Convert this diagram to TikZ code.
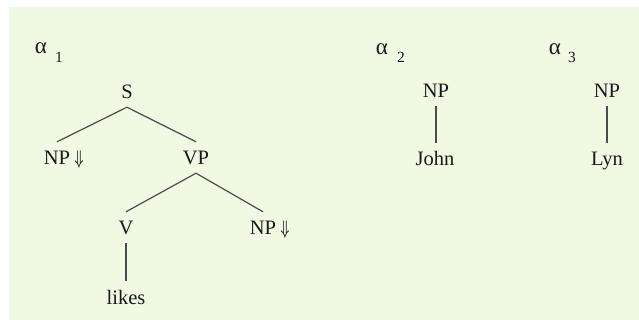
\documentclass[tikz,border=0pt]{standalone}
\usepackage{fontspec}
\setmainfont{Liberation Serif}
\usepackage{graphicx}
\definecolor{bgreen}{RGB}{240,250,226}
\definecolor{txt}{RGB}{25,25,25}
\definecolor{ln}{RGB}{75,75,75}
\begin{document}
\begin{tikzpicture}[x=1pt,y=-1pt,
  lab/.style={anchor=base,inner xsep=0pt,inner ysep=8pt,text height=15pt,text depth=0pt,
    font=\fontsize{20.5}{24}\selectfont,text=txt},
  dn/.style={anchor=base west,inner sep=0pt,text=txt,font=\fontsize{20}{24}\selectfont},
  greek/.style={anchor=base,inner sep=0pt,text=txt,font=\fontsize{23}{26}\selectfont},
  idx/.style={anchor=base,inner sep=0pt,text=txt,font=\fontsize{15.5}{18}\selectfont},
  edge/.style={draw=ln,line width=1.2pt}]
\useasboundingbox (0,0) rectangle (639,320);
\fill[white] (0,0) rectangle (639,320);
\fill[bgreen] (9,7) rectangle (639,320);
% alpha labels
\node[greek] (a1) at (41,54) {α};
\node[idx] (i1) at (59,63) {1};
\node[greek] (a2) at (382,55) {α};
\node[idx] (i2) at (401,63) {2};
\node[greek] (a3) at (555,55) {α};
\node[idx] (i3) at (572,63) {3};
% tree alpha1
\node[lab] (S) at (127,99) {S};
\node[lab] (NPa) at (57,165) {NP};
\node[dn] (da) at (NPa.base east) {\hspace{4pt}\scalebox{0.6}[0.95]{\boldmath$\Downarrow$}};
\node[lab] (VP) at (196,165) {VP};
\node[lab] (V) at (126,235) {V};
\node[lab] (NPb) at (263,235) {NP};
\node[dn] (db) at (NPb.base east) {\hspace{4pt}\scalebox{0.6}[0.95]{\boldmath$\Downarrow$}};
\node[lab] (likes) at (126,304) {likes};
\draw[edge] (S.south) -- (NPa.north);
\draw[edge] (S.south) -- (VP.north);
\draw[edge] (VP.south) -- (V.north);
\draw[edge] (VP.south) -- (NPb.north);
\draw[edge] (V.south) -- (likes.north);
% alpha2
\node[lab] (NPc) at (436,98) {NP};
\node[lab] (john) at (435,166) {John};
\draw[edge] (NPc.south) -- (NPc.south |- john.north);
% alpha3
\node[lab] (NPd) at (607,98) {NP};
\node[lab] (lyn) at (607,166) {Lyn};
\draw[edge] (NPd.south) -- (NPd.south |- lyn.north);
\end{tikzpicture}
\end{document}
